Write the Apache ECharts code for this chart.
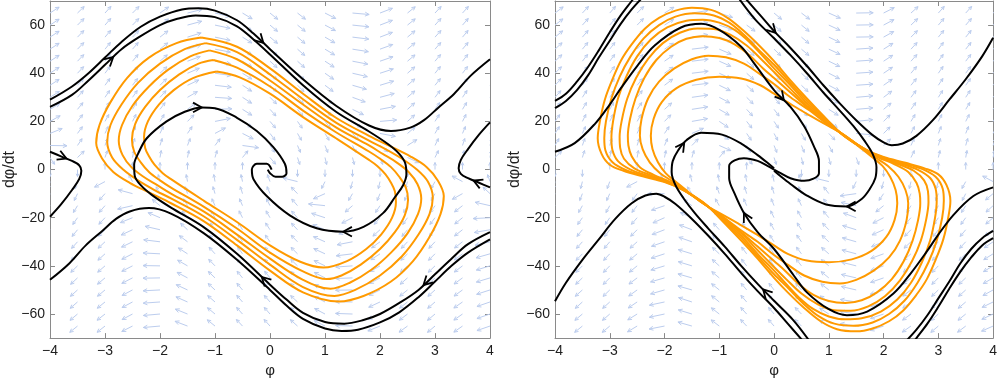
<!DOCTYPE html>
<html><head><meta charset="utf-8">
<script src="https://cdn.jsdelivr.net/npm/echarts@6/dist/echarts.min.js"></script>
<style>html,body{margin:0;padding:0;background:#fff}#c{width:1000px;height:383px}</style>
</head><body><div id="c"></div>
<script>
// ---------- ticks ----------
const xTicks = [-4,-3,-2,-1,0,1,2,3,4];
const yTicks = [-60,-40,-20,0,20,40,60];

// ---------- vector field (arrow slope angles in degrees, read/estimated) ----------
const fieldColsX = [-4,-3.5,-3,-2.5,-2,-1.5,-1,-0.5,0,0.5,1,1.5,2,2.5,3,3.5,4];
const fieldRowsY = [65,60,55,50,45,40,35,30,25,20,15,10,5,0,-5,-10,-15,-20,-25,-30,-35,-40,-45,-50,-55,-60,-65];
const fieldLeft = [
[33,44,48,45,35,14,-13,-31,-39,-38,-27,-5,21,39,47,48,42],
[33,45,49,46,36,15,-12,-32,-40,-39,-28,-6,21,39,48,49,43],
[33,46,50,47,38,17,-12,-32,-40,-40,-30,-7,21,40,48,50,44],
[33,46,51,49,39,18,-11,-32,-41,-41,-31,-9,20,40,49,50,45],
[33,46,52,50,41,20,-10,-32,-42,-42,-33,-11,19,40,50,52,47],
[33,47,53,51,43,23,-8,-32,-43,-44,-35,-13,18,41,51,53,49],
[33,48,54,53,45,25,-7,-33,-44,-45,-37,-16,17,41,51,54,50],
[32,49,56,55,48,30,-4,-33,-45,-48,-41,-20,15,41,53,56,53],
[31,51,58,59,53,37,2,-32,-48,-51,-45,-26,11,42,55,59,57],
[29,53,61,63,59,45,11,-32,-50,-55,-52,-35,5,42,58,63,62],
[22,54,65,67,65,56,28,-27,-53,-60,-59,-48,-11,40,60,67,67],
[-1,56,70,73,73,69,53,-8,-56,-67,-68,-63,-40,32,64,72,74],
[-56,44,71,79,80,79,74,51,-50,-72,-77,-76,-69,-24,64,77,80],
[-90,-90,90,90,90,90,90,90,null,-90,-90,-90,-90,-90,90,90,90],
[76,70,28,-63,-76,-80,-80,-78,-70,-14,64,75,77,74,61,-28,-71],
[69,65,49,-15,-60,-71,-74,-73,-67,-46,24,60,68,68,61,29,-43],
[60,59,49,13,-39,-60,-66,-67,-63,-49,-6,41,57,61,56,38,-13],
[54,55,47,22,-23,-51,-61,-63,-60,-48,-18,27,49,55,53,39,3],
[48,51,45,25,-13,-43,-55,-59,-57,-47,-22,17,42,50,49,38,10],
[44,48,43,26,-7,-37,-51,-56,-55,-46,-24,11,36,47,47,38,13],
[40,46,42,27,-3,-33,-48,-54,-53,-45,-25,7,33,44,45,37,16],
[39,44,41,27,-1,-30,-46,-52,-52,-44,-26,4,30,42,44,37,17],
[37,43,40,27,1,-28,-44,-51,-51,-44,-27,2,28,41,43,36,17],
[35,42,40,28,3,-25,-43,-50,-50,-43,-27,1,26,39,42,36,18],
[34,41,39,28,4,-24,-41,-49,-49,-43,-27,-1,25,38,41,35,19],
[32,40,38,28,5,-22,-40,-48,-49,-43,-28,-2,23,37,40,35,19],
[31,39,38,27,5,-21,-39,-47,-48,-42,-27,-2,22,36,40,35,19]
];
const fieldRight = [
[37,47,49,45,32,9,-18,-35,-40,-37,-24,1,27,42,48,48,41],
[38,48,50,46,33,9,-19,-36,-42,-39,-25,1,28,44,50,49,42],
[39,49,52,47,35,9,-20,-37,-43,-40,-26,1,29,45,51,51,43],
[42,51,53,48,34,7,-23,-40,-44,-40,-25,4,32,47,53,52,43],
[43,52,54,49,35,7,-24,-41,-46,-41,-26,4,33,48,54,53,45],
[45,53,55,50,36,7,-25,-42,-47,-43,-27,4,34,50,55,54,46],
[46,54,56,51,37,7,-26,-43,-48,-44,-28,4,35,51,56,55,47],
[48,57,58,53,39,8,-28,-45,-50,-46,-30,5,37,53,58,57,49],
[51,59,61,56,42,9,-30,-48,-53,-49,-32,5,40,55,60,59,52],
[55,63,64,60,46,10,-34,-52,-57,-53,-36,6,45,59,64,63,56],
[57,66,68,66,56,24,-32,-56,-62,-60,-47,-5,45,63,68,68,63],
[60,71,74,73,67,46,-24,-60,-68,-68,-61,-29,43,66,73,74,71],
[44,73,79,80,79,74,51,-50,-72,-77,-76,-69,-24,64,77,80,80],
[-90,-90,90,90,90,90,90,90,null,-90,-90,-90,-90,-90,90,90,90],
[77,76,70,28,-63,-76,-80,-80,-78,-70,-14,64,75,77,74,61,-28],
[64,69,66,54,1,-56,-70,-73,-73,-69,-53,8,56,67,68,63,40],
[53,61,61,52,19,-37,-60,-67,-68,-65,-52,-12,39,58,62,58,42],
[43,55,56,49,24,-24,-52,-62,-64,-61,-50,-20,27,50,57,54,41],
[39,51,52,45,21,-21,-48,-58,-61,-58,-46,-17,24,46,53,50,37],
[36,48,50,42,19,-19,-45,-55,-58,-55,-43,-16,22,43,50,47,34],
[34,46,47,40,18,-17,-43,-53,-56,-53,-41,-15,20,41,48,45,32],
[33,45,46,39,17,-17,-42,-52,-55,-52,-40,-14,20,40,46,44,31],
[32,44,45,37,16,-16,-40,-51,-54,-51,-39,-13,19,39,45,43,30],
[31,42,44,36,16,-16,-39,-50,-53,-49,-38,-13,18,37,44,42,29],
[31,42,42,34,12,-18,-39,-49,-52,-47,-35,-9,20,37,43,40,26],
[30,40,41,32,12,-17,-38,-48,-50,-46,-33,-9,19,36,42,39,25],
[29,39,40,31,11,-16,-37,-47,-49,-45,-32,-9,18,35,40,37,24]
];

// ---------- left panel: black trajectories ----------
const leftBlackTopOuter = [[-4,29],[-3.6,34.5],[-3.3,40],[-3,46.5],[-2.7,53],[-2.35,59.3],[-2,63.5],[-1.6,66.5],[-1.3,67],[-1,66],[-0.6,62],[-0.3,56.5],[0,50],[0.6,37.5],[1.2,26.5],[1.8,18.3],[2.2,16],[2.55,17.4],[2.8,20.5],[3.05,25.5],[3.35,31.5],[3.65,39],[4,45.8]];
const leftBlackTopInner = [[-4,26],[-3.6,31],[-3.3,37],[-3,43.5],[-2.7,50],[-2.36,55.3],[-2,60],[-1.7,62.5],[-1.35,64],[-1,63.3],[-0.6,59.5],[-0.3,54],[0,47.8],[0.6,35],[1.2,24],[1.8,15.8],[2.15,10.5],[2.35,6.5],[2.46,2.5],[2.48,-2],[2.42,-6.5],[2.27,-11.5],[2.06,-18],[1.7,-23.8],[1.33,-25.8],[0.85,-24.4],[0.36,-19],[-0.06,-11],[-0.3,-4],[-0.33,0],[-0.24,2.4],[-0.06,2.4],[0.03,0]];
const leftBlackBotOuter = [[4,-29],[3.6,-34.5],[3.3,-40],[3,-46.5],[2.7,-53],[2.35,-59.3],[2,-63.5],[1.6,-66.5],[1.3,-67],[1,-66],[0.6,-62],[0.3,-56.5],[0,-50],[-0.6,-37.5],[-1.2,-26.5],[-1.8,-18.3],[-2.2,-16],[-2.55,-17.4],[-2.8,-20.5],[-3.05,-25.5],[-3.35,-31.5],[-3.65,-39],[-4,-45.8]];
const leftBlackBotInner = [[4,-26],[3.6,-31],[3.3,-37],[3,-43.5],[2.7,-50],[2.36,-55.3],[2,-60],[1.7,-62.5],[1.35,-64],[1,-63.3],[0.6,-59.5],[0.3,-54],[0,-47.8],[-0.6,-35],[-1.2,-24],[-1.8,-15.8],[-2.15,-10.5],[-2.35,-6.5],[-2.46,-2.5],[-2.47,2],[-2.4,6.5],[-2.24,13],[-1.88,20],[-1.55,24],[-1.24,25.8],[-1,25.5],[-0.6,21.5],[-0.24,16],[0.06,9.3],[0.27,2.4],[0.3,-1.5],[0.22,-3],[0.1,-3],[0,-1.5],[-0.04,0]];
const leftBlackSaddleL = [[-4,7.4],[-3.8,5.5],[-3.6,3.6],[-3.47,1.8],[-3.43,-0.5],[-3.47,-4],[-3.6,-8.5],[-3.8,-14.5],[-4,-19.6]];
const leftBlackSaddleR = [[4,-7.4],[3.8,-5.5],[3.6,-3.6],[3.47,-1.8],[3.43,0.5],[3.47,4],[3.6,8.5],[3.8,14.5],[4,19.6]];

// ---------- left panel: orange cycles ----------
const leftOrange1 = [[-1.25,54.8],[-0.6,51],[0,42],[0.6,31.5],[1.2,21.5],[1.8,14],[2.2,9.5],[2.55,5.5],[2.85,1],[3.05,-4.5],[3.16,-11],[3.1,-18.5],[2.9,-28],[2.6,-38],[2.2,-46.5],[1.7,-52.5],[1.25,-54.8],[0.6,-51],[0,-42],[-0.6,-31.5],[-1.2,-21.5],[-1.8,-14],[-2.2,-9.5],[-2.55,-5.5],[-2.85,-1],[-3.05,4.5],[-3.16,11],[-3.1,18.5],[-2.9,28],[-2.6,38],[-2.2,46.5],[-1.7,52.5],[-1.25,54.8]];
const leftOrange2 = [[-1.17,52.5],[-0.6,48.8],[0,39.5],[0.6,29.2],[1.2,19.5],[1.8,12],[2.1,8.5],[2.4,4.5],[2.67,0],[2.87,-5],[2.96,-11.5],[2.9,-18.5],[2.7,-27],[2.4,-36],[2,-44],[1.55,-50],[1.17,-52.5],[0.6,-48.8],[0,-39.5],[-0.6,-29.2],[-1.2,-19.5],[-1.8,-12],[-2.1,-8.5],[-2.4,-4.5],[-2.67,0],[-2.87,5],[-2.96,11.5],[-2.9,18.5],[-2.7,27],[-2.4,36],[-2,44],[-1.55,50],[-1.17,52.5]];
const leftOrange3 = [[-1.1,49.5],[-0.6,45.8],[0,37],[0.6,27],[1.2,17.5],[1.8,10],[2.05,6.5],[2.3,3],[2.52,-1],[2.68,-6],[2.75,-12],[2.69,-18.5],[2.5,-26.5],[2.2,-34.5],[1.85,-41.5],[1.45,-47],[1.1,-49.5],[0.6,-45.8],[0,-37],[-0.6,-27],[-1.2,-17.5],[-1.8,-10],[-2.05,-6.5],[-2.3,-3],[-2.52,1],[-2.68,6],[-2.75,12],[-2.69,18.5],[-2.5,26.5],[-2.2,34.5],[-1.85,41.5],[-1.45,47],[-1.1,49.5]];
const leftOrange4 = [[-1.03,45.5],[-0.6,42.3],[0,34.5],[0.6,24.5],[1.2,15.5],[1.8,7.5],[2,4.5],[2.2,1],[2.35,-3],[2.47,-7.5],[2.51,-12.5],[2.45,-19],[2.27,-26],[2,-33],[1.65,-39.5],[1.3,-44],[1.03,-45.5],[0.6,-42.3],[0,-34.5],[-0.6,-24.5],[-1.2,-15.5],[-1.8,-7.5],[-2,-4.5],[-2.2,-1],[-2.35,3],[-2.47,7.5],[-2.51,12.5],[-2.45,19],[-2.27,26],[-2,33],[-1.65,39.5],[-1.3,44],[-1.03,45.5]];
const leftOrange5 = [[-0.97,40.7],[-0.55,38.3],[0,31.5],[0.6,21.8],[1.2,13],[1.8,4],[1.95,1.5],[2.1,-2],[2.2,-5.5],[2.27,-9],[2.29,-13.5],[2.22,-20],[2.02,-27],[1.75,-33],[1.4,-38],[0.97,-40.7],[0.55,-38.3],[0,-31.5],[-0.6,-21.8],[-1.2,-13],[-1.8,-4],[-1.95,-1.5],[-2.1,2],[-2.2,5.5],[-2.27,9],[-2.29,13.5],[-2.22,20],[-2.02,27],[-1.75,33],[-1.4,38],[-0.97,40.7]];

// ---------- right panel: black trajectories ----------
const rightBlackA1 = [[-4,28.5],[-3.8,31.5],[-3.6,36.5],[-3.4,42.5],[-3.2,49.5],[-3,57],[-2.8,64],[-2.6,70],[-2.5,73]];
const rightBlackA2 = [[-4,25.5],[-3.8,28.5],[-3.6,33],[-3.4,39],[-3.2,46.5],[-3,53.5],[-2.8,60.5],[-2.6,66.5],[-2.4,71.5]];
const rightBlackA3 = [[4,-28.5],[3.8,-31.5],[3.6,-36.5],[3.4,-42.5],[3.2,-49.5],[3,-57],[2.8,-64],[2.6,-70],[2.5,-73]];
const rightBlackA4 = [[4,-25.5],[3.8,-28.5],[3.6,-33],[3.4,-39],[3.2,-46.5],[3,-53.5],[2.8,-60.5],[2.6,-66.5],[2.4,-71.5]];
const rightBlackTopOuter = [[-0.52,71],[-0.25,64],[0,57.5],[0.3,50.5],[0.6,43],[0.9,35],[1.2,27.5],[1.5,20.5],[1.8,14.3],[2,11.3],[2.15,10.1],[2.35,10.8],[2.6,14],[2.9,20.5],[3.2,29],[3.5,37.5],[3.8,47],[4,54.7]];
const rightBlackTopInner = [[-0.64,71],[-0.35,62.5],[0,54.5],[0.3,47.5],[0.6,40],[0.9,32],[1.2,24.5],[1.45,18],[1.65,12],[1.8,6.5],[1.87,1],[1.85,-3.5],[1.75,-8],[1.6,-12.2],[1.33,-15.3],[0.95,-14.5],[0.6,-10.8],[0.3,-6],[0.12,-2.8],[0,-0.5]];
const rightBlackBotOuter = [[0.52,-71],[0.25,-64],[0,-57.5],[-0.3,-50.5],[-0.6,-43],[-0.9,-35],[-1.2,-27.5],[-1.5,-20.5],[-1.8,-14.3],[-2,-11.3],[-2.15,-10.1],[-2.35,-10.8],[-2.6,-14],[-2.9,-20.5],[-3.2,-29],[-3.5,-37.5],[-3.8,-47],[-4,-54.7]];
const rightBlackBotInner = [[0.64,-71],[0.35,-62.5],[0,-54.5],[-0.3,-47.5],[-0.6,-40],[-0.9,-32],[-1.2,-24.5],[-1.45,-18],[-1.65,-12],[-1.8,-6.5],[-1.87,-1],[-1.85,3.5],[-1.75,8],[-1.6,12.2],[-1.33,15.3],[-0.95,14.5],[-0.6,10.8],[-0.3,6],[-0.12,2.8],[0,0.5]];
const rightBlackPeakTop = [[-4,7.4],[-3.64,11],[-3.27,19],[-3,27],[-2.79,34],[-2.5,43],[-2.18,51.5],[-1.7,59],[-1.33,60.5],[-1,58],[-0.6,51],[-0.36,44],[0,33],[0.3,26],[0.55,18],[0.72,10],[0.82,3.5],[0.82,-1.5],[0.72,-3.8],[0.55,-4.7],[0.3,-3.6],[0.12,-1.5],[0,0]];
const rightBlackPeakBot = [[4,-7.4],[3.64,-11],[3.27,-19],[3,-27],[2.79,-34],[2.5,-43],[2.18,-51.5],[1.7,-59],[1.33,-60.5],[1,-58],[0.6,-51],[0.36,-44],[0,-33],[-0.3,-26],[-0.55,-18],[-0.72,-10],[-0.82,-3.5],[-0.82,1.5],[-0.72,3.8],[-0.55,4.7],[-0.3,3.6],[-0.12,1.5],[0,0]];

// ---------- right panel: orange cycles ----------
const rightOrange1 = [[-1,-20],[-1.3,-13.5],[-1.65,-8.5],[-2,-5.2],[-2.4,-2.8],[-2.75,-0.5],[-3,2],[-3.15,6.5],[-3.22,13],[-3.18,20],[-3.09,29],[-2.95,37.5],[-2.79,45.5],[-2.6,52],[-2.36,58.5],[-2.1,63],[-1.8,66],[-1.5,67.2],[-1.15,66.3],[-0.85,63],[-0.55,57.5],[-0.25,51],[0,45],[0.3,37],[0.6,29.5],[1,20],[1.3,13.5],[1.65,8.5],[2,5.2],[2.4,2.8],[2.75,0.5],[3,-2],[3.15,-6.5],[3.22,-13],[3.18,-20],[3.09,-29],[2.95,-37.5],[2.79,-45.5],[2.6,-52],[2.36,-58.5],[2.1,-63],[1.8,-66],[1.5,-67.2],[1.15,-66.3],[0.85,-63],[0.55,-57.5],[0.25,-51],[0,-45],[-0.3,-37],[-0.6,-29.5],[-1,-20]];
const rightOrange2 = [[-1,-19.6],[-1.3,-13.6],[-1.65,-8.6],[-1.98,-5.1],[-2.35,-2.7],[-2.7,-0.3],[-2.95,3],[-3.08,8],[-3.1,13],[-3.07,20],[-2.97,29.5],[-2.82,38.5],[-2.62,47],[-2.38,54.5],[-2.1,60],[-1.8,63.5],[-1.45,64.9],[-1.1,64],[-0.82,61],[-0.55,56],[-0.27,49.5],[0,43.5],[0.3,36],[0.6,28.5],[1,19.6],[1.3,13.6],[1.65,8.6],[1.98,5.1],[2.35,2.7],[2.7,0.3],[2.95,-3],[3.08,-8],[3.1,-13],[3.07,-20],[2.97,-29.5],[2.82,-38.5],[2.62,-47],[2.38,-54.5],[2.1,-60],[1.8,-63.5],[1.45,-64.9],[1.1,-64],[0.82,-61],[0.55,-56],[0.27,-49.5],[0,-43.5],[-0.3,-36],[-0.6,-28.5],[-1,-19.6]];
const rightOrange3 = [[-1,-19.3],[-1.3,-13.7],[-1.64,-8.7],[-1.96,-5.1],[-2.3,-2.6],[-2.62,0],[-2.85,3.5],[-2.95,8],[-2.97,13],[-2.94,20],[-2.85,29.5],[-2.7,38.5],[-2.5,47],[-2.25,54],[-1.95,59],[-1.6,61.8],[-1.3,62.2],[-1,61],[-0.72,58],[-0.45,53],[-0.2,47],[0,42],[0.3,35],[0.6,27.5],[1,19.3],[1.3,13.7],[1.64,8.7],[1.96,5.1],[2.3,2.6],[2.62,0],[2.85,-3.5],[2.95,-8],[2.97,-13],[2.94,-20],[2.85,-29.5],[2.7,-38.5],[2.5,-47],[2.25,-54],[1.95,-59],[1.6,-61.8],[1.3,-62.2],[1,-61],[0.72,-58],[0.45,-53],[0.2,-47],[0,-42],[-0.3,-35],[-0.6,-27.5],[-1,-19.3]];
const rightOrange4 = [[-1,-19],[-1.3,-13.8],[-1.63,-8.8],[-1.93,-5.1],[-2.25,-2.4],[-2.55,0.5],[-2.74,4.5],[-2.81,9],[-2.82,13.5],[-2.78,20.5],[-2.68,29.5],[-2.52,38],[-2.3,46],[-2.03,52.5],[-1.72,56.8],[-1.4,58.6],[-1.1,58.4],[-0.8,56],[-0.5,51.5],[-0.22,45.5],[0,40.5],[0.3,33.5],[0.6,26.5],[1,19],[1.3,13.8],[1.63,8.8],[1.93,5.1],[2.25,2.4],[2.55,-0.5],[2.74,-4.5],[2.81,-9],[2.82,-13.5],[2.78,-20.5],[2.68,-29.5],[2.52,-38],[2.3,-46],[2.03,-52.5],[1.72,-56.8],[1.4,-58.6],[1.1,-58.4],[0.8,-56],[0.5,-51.5],[0.22,-45.5],[0,-40.5],[-0.3,-33.5],[-0.6,-26.5],[-1,-19]];
const rightOrange5 = [[-1,-18.7],[-1.3,-13.9],[-1.62,-8.9],[-1.9,-5.1],[-2.2,-2.2],[-2.45,1],[-2.6,5.5],[-2.66,10],[-2.67,14],[-2.63,21],[-2.53,29.5],[-2.37,38],[-2.15,45.5],[-1.88,51],[-1.6,54.3],[-1.3,55.4],[-1,54.6],[-0.72,52],[-0.45,47.5],[-0.2,42],[0,38],[0.3,32],[0.6,26],[1,18.7],[1.3,13.9],[1.62,8.9],[1.9,5.1],[2.2,2.2],[2.45,-1],[2.6,-5.5],[2.66,-10],[2.67,-14],[2.63,-21],[2.53,-29.5],[2.37,-38],[2.15,-45.5],[1.88,-51],[1.6,-54.3],[1.3,-55.4],[1,-54.6],[0.72,-52],[0.45,-47.5],[0.2,-42],[0,-38],[-0.3,-32],[-0.6,-26],[-1,-18.7]];
const rightOrange6 = [[-1,-18.4],[-1.3,-14],[-1.6,-9],[-1.85,-5],[-2.08,-1.5],[-2.27,3],[-2.4,8.5],[-2.45,14],[-2.42,21],[-2.3,29.5],[-2.1,36.5],[-1.82,42],[-1.5,45.8],[-1.2,47.3],[-0.88,46.6],[-0.55,44],[-0.25,39.5],[0,35.5],[0.3,30],[0.65,24.5],[1,18.4],[1.3,14],[1.6,9],[1.85,5],[2.08,1.5],[2.27,-3],[2.4,-8.5],[2.45,-14],[2.42,-21],[2.3,-29.5],[2.1,-36.5],[1.82,-42],[1.5,-45.8],[1.2,-47.3],[0.88,-46.6],[0.55,-44],[0.25,-39.5],[0,-35.5],[-0.3,-30],[-0.65,-24.5],[-1,-18.4]];
const rightOrange7 = [[-1,-18],[-1.3,-14],[-1.58,-9],[-1.8,-5],[-1.98,-1.5],[-2.12,3],[-2.22,8.5],[-2.25,14],[-2.2,21],[-2.05,28],[-1.78,33.8],[-1.42,37.3],[-1,38.5],[-0.6,37.8],[-0.25,35],[0,31.5],[0.35,26.5],[0.65,22.5],[1,18],[1.3,14],[1.58,9],[1.8,5],[1.98,1.5],[2.12,-3],[2.22,-8.5],[2.25,-14],[2.2,-21],[2.05,-28],[1.78,-33.8],[1.42,-37.3],[1,-38.5],[0.6,-37.8],[0.25,-35],[0,-31.5],[-0.35,-26.5],[-0.65,-22.5],[-1,-18]];

// ---------- arrowheads on trajectories: [phi, dphi/dt, travel direction deg] ----------
const arrowsLeft = [[-2.85,46.7,42],[-0.12,52.6,-45],[-1.24,25.8,0],[1.33,-25.8,180],[-0.15,-44.6,136],[2.79,-48,224],[-3.7,4.55,-23],[3.7,-4.55,157]];
const arrowsRight = [[0.03,56.8,-46],[0.18,28.8,-50],[1.33,-15.3,180],[-1.64,11.1,55],[-0.55,-18,118],[-0.2,-49.8,134]];

// ================= chart =================
const AX = '#8a8a8a', TXT = '#1e1e1e', ORANGE = '#ff9a00', QC = '#bccdee';
const FONT = 'Liberation Sans, Arial, Helvetica, sans-serif';
const fmt = v => v < 0 ? '\u2212' + Math.abs(v) : String(v);

function quiverData(table) {
  const out = [];
  fieldRowsY.forEach((y, i) => fieldColsX.forEach((x, j) => {
    const a = table[i][j];
    if (a !== null) out.push([x, y, a]);
  }));
  return out;
}

function quiverSeries(table, xi, yi) {
  return {
    type: 'custom', xAxisIndex: xi, yAxisIndex: yi, clip: true, silent: true, z: 1,
    data: quiverData(table),
    renderItem: (params, api) => {
      const x = api.value(0), y = api.value(1), a = api.value(2);
      const p = api.coord([x, y]);
      let th = a * Math.PI / 180;
      if (y < 0) th += Math.PI;
      const c = Math.cos(th), s = Math.sin(th);
      const L = 1 / Math.sqrt((c / 17) * (c / 17) + (s / 7) * (s / 7));
      const ux = c, uy = -s;
      const tip = [p[0] + ux * L, p[1] + uy * L];
      const h = Math.min(4.5, 0.28 * L + 1.2), g = 0.45;
      const b1 = [tip[0] - h * (ux * Math.cos(g) - uy * Math.sin(g)), tip[1] - h * (uy * Math.cos(g) + ux * Math.sin(g))];
      const b2 = [tip[0] - h * (ux * Math.cos(g) + uy * Math.sin(g)), tip[1] - h * (uy * Math.cos(g) - ux * Math.sin(g))];
      return { type: 'group', children: [
        { type: 'line', shape: { x1: p[0], y1: p[1], x2: tip[0], y2: tip[1] }, style: { stroke: QC, lineWidth: 1 } },
        { type: 'polyline', shape: { points: [b1, tip, b2] }, style: { stroke: QC, lineWidth: 1, fill: null } }
      ]};
    }
  };
}

function headSeries(data, xi, yi) {
  return {
    type: 'custom', xAxisIndex: xi, yAxisIndex: yi, silent: true, z: 6, data,
    renderItem: (params, api) => {
      const p = api.coord([api.value(0), api.value(1)]);
      const th = api.value(2) * Math.PI / 180;
      const ux = Math.cos(th), uy = -Math.sin(th);
      const h = 10, g = 0.5;
      const b1 = [p[0] - h * (ux * Math.cos(g) - uy * Math.sin(g)), p[1] - h * (uy * Math.cos(g) + ux * Math.sin(g))];
      const b2 = [p[0] - h * (ux * Math.cos(g) + uy * Math.sin(g)), p[1] - h * (uy * Math.cos(g) - ux * Math.sin(g))];
      return { type: 'polyline', shape: { points: [b1, p, b2] }, style: { stroke: '#000', lineWidth: 1.8, fill: null } };
    }
  };
}

function line(data, color, xi, yi, z) {
  return { type: 'line', data, xAxisIndex: xi, yAxisIndex: yi, showSymbol: false, symbol: 'none',
    smooth: 0.35, silent: true, z, lineStyle: { color, width: 2 } };
}

const xAxes = [], yAxes = [];
[0, 1].forEach(g => {
  xAxes.push({ type: 'value', gridIndex: g, min: -4, max: 4, interval: 1, position: 'bottom',
    axisLine: { show: true, onZero: false, lineStyle: { color: AX, width: 1 } },
    axisTick: { show: true, inside: true, length: 5, customValues: xTicks, lineStyle: { color: AX } },
    axisLabel: { show: true, customValues: xTicks, margin: 6, color: TXT, fontSize: 14, fontFamily: FONT, formatter: fmt },
    splitLine: { show: false },
    name: '\u03C6', nameLocation: 'middle', nameGap: 23,
    nameTextStyle: { color: TXT, fontSize: 15, fontFamily: FONT } });
  xAxes.push({ type: 'value', gridIndex: g, min: -4, max: 4, interval: 1, position: 'top',
    axisLine: { show: true, onZero: false, lineStyle: { color: AX, width: 1 } },
    axisTick: { show: true, inside: true, length: 5, customValues: xTicks, lineStyle: { color: AX } },
    axisLabel: { show: false }, splitLine: { show: false } });
  yAxes.push({ type: 'value', gridIndex: g, min: -70, max: 70, position: 'left',
    axisLine: { show: true, onZero: false, lineStyle: { color: AX, width: 1 } },
    axisTick: { show: true, inside: true, length: 5, customValues: yTicks, lineStyle: { color: AX } },
    axisLabel: { show: true, customValues: yTicks, margin: 5, color: TXT, fontSize: 14, fontFamily: FONT, formatter: fmt },
    splitLine: { show: false },
    name: 'd\u03C6/dt', nameLocation: 'middle', nameGap: 32, nameRotate: 90,
    nameTextStyle: { color: TXT, fontSize: 16, fontFamily: FONT } });
  yAxes.push({ type: 'value', gridIndex: g, min: -70, max: 70, position: 'right',
    axisLine: { show: true, onZero: false, lineStyle: { color: AX, width: 1 } },
    axisTick: { show: true, inside: true, length: 5, customValues: yTicks, lineStyle: { color: AX } },
    axisLabel: { show: false }, splitLine: { show: false } });
});

const series = [];
series.push(quiverSeries(fieldLeft, 0, 0));
[leftOrange1, leftOrange2, leftOrange3, leftOrange4, leftOrange5].forEach(d => series.push(line(d, ORANGE, 0, 0, 3)));
[leftBlackTopOuter, leftBlackTopInner, leftBlackBotOuter, leftBlackBotInner, leftBlackSaddleL, leftBlackSaddleR]
  .forEach(d => series.push(line(d, '#000', 0, 0, 4)));
series.push(headSeries(arrowsLeft, 0, 0));
series.push(quiverSeries(fieldRight, 2, 2));
[rightOrange1, rightOrange2, rightOrange3, rightOrange4, rightOrange5, rightOrange6, rightOrange7].forEach(d => series.push(line(d, ORANGE, 2, 2, 3)));
[rightBlackA1, rightBlackA2, rightBlackA3, rightBlackA4, rightBlackTopOuter, rightBlackTopInner, rightBlackBotOuter, rightBlackBotInner, rightBlackPeakTop, rightBlackPeakBot]
  .forEach(d => series.push(line(d, '#000', 2, 2, 4)));
series.push(headSeries(arrowsRight, 2, 2));

const chart = echarts.init(document.getElementById('c'), null, { renderer: 'canvas' });
chart.setOption({
  animation: false,
  backgroundColor: '#fff',
  grid: [
    { left: 50, top: 1, width: 440, height: 345 },
    { left: 555, top: 1, width: 440, height: 345 }
  ],
  xAxis: xAxes, yAxis: yAxes, series
});
</script></body></html>
